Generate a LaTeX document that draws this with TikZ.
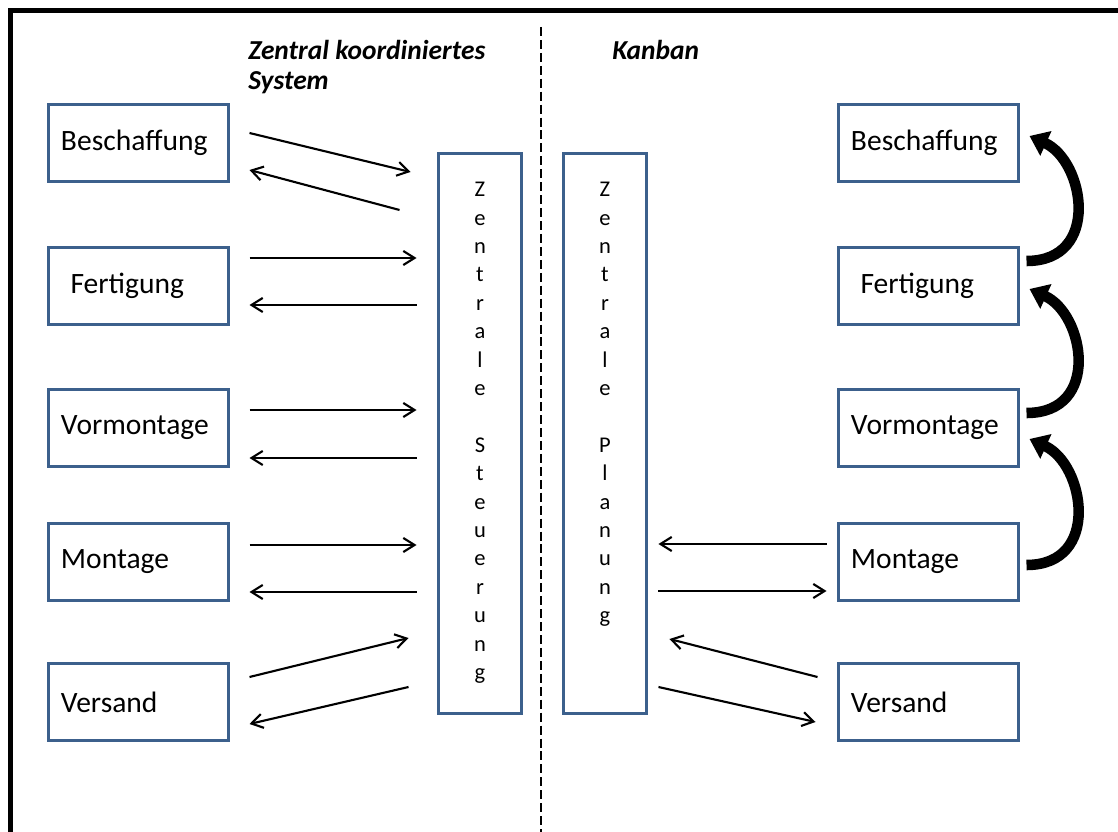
\documentclass[tikz,border=0pt]{standalone}
\usepackage{fontspec}
\setmainfont{Carlito}
\usepackage{xcolor}
\definecolor{kastenblau}{RGB}{60,96,140}
\usetikzlibrary{arrows.meta,calc}

\begin{document}
\begin{tikzpicture}[x=0.025cm,y=-0.025cm,
		kasten/.style={draw=kastenblau, line width=2.1pt, minimum width=4.5cm, minimum height=1.925cm,
			inner xsep=0.3125cm, text width=3.875cm, align=left, font=\fontsize{21}{25}\selectfont},
		saeule/.style={draw=kastenblau, line width=2.1pt, minimum width=2.075cm, minimum height=14cm},
		senkrecht/.style={anchor=north, inner sep=0pt, align=center, font=\fontsize{16}{20.2}\selectfont},
		titel/.style={anchor=north west, inner sep=0pt, align=left, font=\fontsize{19.5}{21.5}\selectfont\bfseries\itshape},
		pfeil/.style={-{Straight Barb[length=8pt,width=10pt]}, line width=1.5pt},
		bogen/.style={-{Triangle[length=0.45cm,width=0.65cm]}, line width=7.5pt}]
		\useasboundingbox (0,0) rectangle (1118,832);
		\draw[line width=3.2pt] (10.5,10.5) rectangle (1140,860);
		\draw[line width=1.4pt, dash pattern=on 6.4pt off 2.8pt] (541,27) -- (541,832);
		
		\node[titel] (zktitel) at (248,40) {Zentral koordiniertes\\System};
		\node[titel] (kbtitel) at (612,40) {Kanban};
		
		% linke Seite
		\node[kasten] (lbes) at (138.5,143) {Beschaffung};
		\node[kasten] (lfer) at (138.5,286) {\hspace*{2.4mm}Fertigung};
		\node[kasten] (lvor) at (138.5,428) {Vormontage};
		\node[kasten] (lmon) at (138.5,562) {Montage};
		\node[kasten] (lver) at (138.5,702) {Versand};
		
		% rechte Seite
		\node[kasten] (rbes) at (928.5,143) {Beschaffung};
		\node[kasten] (rfer) at (928.5,286) {\hspace*{2.4mm}Fertigung};
		\node[kasten] (rvor) at (928.5,428) {Vormontage};
		\node[kasten] (rmon) at (928.5,562) {Montage};
		\node[kasten] (rver) at (928.5,702) {Versand};
		
		\node[saeule] (steuer) at (480,433.5) {};
		\node[saeule] (planung) at (605,433.5) {};
		\node[senkrecht] (steuertext) at (480,182)
			{Z\\e\\n\\t\\r\\a\\l\\e\\~\\S\\t\\e\\u\\e\\r\\u\\n\\g};
		\node[senkrecht] (planungtext) at (605,182)
			{Z\\e\\n\\t\\r\\a\\l\\e\\~\\P\\l\\a\\n\\u\\n\\g};
		
		% zentral koordiniert
		\draw[pfeil] ($(lbes.east)+(19.5,-10)$) -- ($(steuer.west |- lbes.east)+(-26.5,29)$);
		\draw[pfeil] ($(steuer.west |- lbes.east)+(-37.5,67)$) -- ($(lbes.east)+(19.5,27)$);
		\draw[pfeil] ($(lfer.east)+(19.5,-28)$) -- ($(steuer.west |- lfer.east)+(-20.5,-28)$);
		\draw[pfeil] ($(steuer.west |- lfer.east)+(-20.5,19)$) -- ($(lfer.east)+(19.5,19)$);
		\draw[pfeil] ($(lvor.east)+(19.5,-18)$) -- ($(steuer.west |- lvor.east)+(-20.5,-18)$);
		\draw[pfeil] ($(steuer.west |- lvor.east)+(-20.5,30)$) -- ($(lvor.east)+(19.5,30)$);
		\draw[pfeil] ($(lmon.east)+(19.5,-17)$) -- ($(steuer.west |- lmon.east)+(-20.5,-17)$);
		\draw[pfeil] ($(steuer.west |- lmon.east)+(-20.5,30)$) -- ($(lmon.east)+(19.5,30)$);
		\draw[pfeil] ($(lver.east)+(19.5,-25)$) -- ($(steuer.west |- lver.east)+(-28.5,-64)$);
		\draw[pfeil] ($(steuer.west |- lver.east)+(-28.5,-15)$) -- ($(lver.east)+(19.5,22)$);
		
		% Kanban
		\draw[pfeil] ($(rmon.west)+(-10.5,-18)$) -- ($(planung.east |- rmon.west)+(10.5,-18)$);
		\draw[pfeil] ($(planung.east |- rmon.west)+(10.5,29)$) -- ($(rmon.west)+(-10.5,29)$);
		\draw[pfeil] ($(rver.west)+(-19.5,-25)$) -- ($(planung.east |- rver.west)+(21.5,-63)$);
		\draw[pfeil] ($(planung.east |- rver.west)+(10.5,-15)$) -- ($(rver.west)+(-21.5,20)$);
		
		\draw[bogen] ($(rfer.east)+(6.5,-25)$) .. controls +(75,0) and +(55,25) .. ($(rbes.east)+(9.5,-7)$);
		\draw[bogen] ($(rvor.east)+(6.5,-15)$) .. controls +(75,0) and +(55,25) .. ($(rfer.east)+(9.5,3)$);
		\draw[bogen] ($(rmon.east)+(6.5,3)$) .. controls +(75,0) and +(55,25) .. ($(rvor.east)+(9.5,11)$);
	\end{tikzpicture}
\end{document}
